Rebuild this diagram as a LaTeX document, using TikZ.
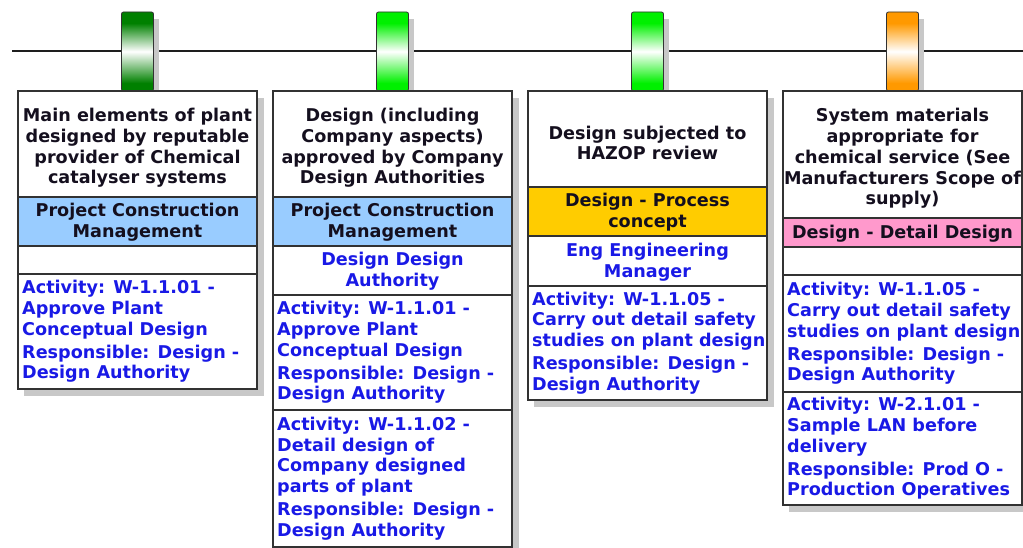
\documentclass[tikz,border=0pt]{standalone}
\usepackage{fontspec}
\setmainfont{DejaVu Sans}
\definecolor{bord}{RGB}{50,50,50}
\definecolor{hdrtxt}{RGB}{20,15,30}
\definecolor{bluetxt}{RGB}{25,25,230}
\definecolor{cellblue}{RGB}{153,204,255}
\definecolor{cellorange}{RGB}{255,204,0}
\definecolor{cellpink}{RGB}{255,153,204}
\definecolor{pegdark}{RGB}{0,128,0}
\definecolor{peglime}{RGB}{0,240,0}
\definecolor{pegorange}{RGB}{255,153,0}
\definecolor{shadowc}{RGB}{200,200,200}
\definecolor{linec}{RGB}{30,30,30}
\pgfdeclareverticalshading{pegA}{100bp}{color(0bp)=(pegdark); color(30bp)=(pegdark); color(50bp)=(white); color(68bp)=(pegdark); color(100bp)=(pegdark)}
\pgfdeclareverticalshading{pegB}{100bp}{color(0bp)=(peglime); color(30bp)=(peglime); color(50bp)=(white); color(68bp)=(peglime); color(100bp)=(peglime)}
\pgfdeclareverticalshading{pegC}{100bp}{color(0bp)=(pegorange); color(30bp)=(pegorange); color(50bp)=(white); color(68bp)=(pegorange); color(100bp)=(pegorange)}
\tikzset{
  cellr/.style={draw=bord, line width=1.2pt, minimum width=239pt, inner sep=0pt, outer sep=0pt},
  txt/.style={font=\bfseries\fontsize{17.6}{20.8}\selectfont, inner sep=0pt},
  hdrt/.style={txt, text=hdrtxt, align=center, yshift=-4pt},
  rolet/.style={txt, text=hdrtxt, align=center, yshift=-1pt},
  whot/.style={txt, text=bluetxt, align=center, yshift=-1pt},
  actt/.style={txt, text=bluetxt, align=left, anchor=west, xshift=4pt},
  pegbox/.style={draw=bord, line width=0.8pt, rounded corners=2pt, minimum width=32pt, minimum height=79pt, inner sep=0pt},
  shadowbox/.style={fill=shadowc},
  timeline/.style={draw=linec, line width=1.6pt},
}
\newcommand\cellbox[5]{%
  \node[cellr, fill=#5, minimum height={#4-#3}] (#1) at ({#2+119.5}, {(#3+#4)/2}) {};}
\begin{document}
\begin{tikzpicture}[x=1pt,y=-1pt]
\useasboundingbox (0,0) rectangle (1023,548);
\fill[white] (0,0) rectangle (1023,548);
% box shadows
\fill[shadowbox] (24,98) rectangle (264,396);
\fill[shadowbox] (279,98) rectangle (519,556);
\fill[shadowbox] (534,98) rectangle (774,407);
\fill[shadowbox] (789,98) rectangle (1029,512);
% timeline
\coordinate (L0) at (12,51);
\coordinate (L1) at (1023,51);
\draw[timeline] (L0) -- (L1);
% pegs
\node[pegbox, shading=pegA] (p1) at (137.5,51.5) {};
\node[pegbox, shading=pegB] (p2) at (392.5,51.5) {};
\node[pegbox, shading=pegB] (p3) at (647.5,51.5) {};
\node[pegbox, shading=pegC] (p4) at (902.5,51.5) {};
\foreach \p in {p1,p2,p3,p4}{
  \fill[shadowbox] ([xshift=0.5pt,yshift=-7pt]\p.north east) rectangle ([xshift=5pt]\p.south east);
}
% column 1
\cellbox{h1}{18}{91}{197}{white}
\cellbox{r1}{18}{197}{246}{cellblue}
\cellbox{e1}{18}{246}{274}{white}
\cellbox{a1}{18}{274}{389}{white}
\node[hdrt] (h1t) at (h1) {Main elements of plant\\designed by reputable\\provider of Chemical\\catalyser systems};
\node[rolet] (r1t) at (r1) {Project Construction\\Management};
\node[actt] (a1t) at (a1.west) {Activity: W-1.1.01 -\\Approve Plant\\Conceptual Design\\[2pt]Responsible: Design -\\Design Authority};
% column 2
\cellbox{h2}{273}{91}{197}{white}
\cellbox{r2}{273}{197}{246}{cellblue}
\cellbox{d2}{273}{246}{295}{white}
\cellbox{a2}{273}{295}{410}{white}
\cellbox{b2}{273}{410}{547}{white}
\node[hdrt] (h2t) at (h2) {Design (including\\Company aspects)\\approved by Company\\Design Authorities};
\node[rolet] (r2t) at (r2) {Project Construction\\Management};
\node[whot] (d2t) at (d2) {Design Design\\Authority};
\node[actt] (a2t) at (a2.west) {Activity: W-1.1.01 -\\Approve Plant\\Conceptual Design\\[2pt]Responsible: Design -\\Design Authority};
\node[actt] (b2t) at (b2.west) {Activity: W-1.1.02 -\\Detail design of\\Company designed\\parts of plant\\[2pt]Responsible: Design -\\Design Authority};
% column 3
\cellbox{h3}{528}{91}{187}{white}
\cellbox{r3}{528}{187}{236}{cellorange}
\cellbox{d3}{528}{236}{286}{white}
\cellbox{a3}{528}{286}{400}{white}
\node[hdrt] (h3t) at (h3) {Design subjected to\\HAZOP review};
\node[rolet] (r3t) at (r3) {Design - Process\\concept};
\node[whot] (d3t) at (d3) {Eng Engineering\\Manager};
\node[actt] (a3t) at (a3.west) {Activity: W-1.1.05 -\\Carry out detail safety\\studies on plant design\\[2pt]Responsible: Design -\\Design Authority};
% column 4
\cellbox{h4}{783}{91}{218}{white}
\cellbox{r4}{783}{218}{247}{cellpink}
\cellbox{e4}{783}{247}{275}{white}
\cellbox{a4}{783}{275}{392}{white}
\cellbox{b4}{783}{392}{505}{white}
\node[hdrt] (h4t) at (h4) {System materials\\appropriate for\\chemical service (See\\Manufacturers Scope of\\supply)};
\node[rolet] (r4t) at (r4) {Design - Detail Design};
\node[actt] (a4t) at (a4.west) {Activity: W-1.1.05 -\\Carry out detail safety\\studies on plant design\\[2pt]Responsible: Design -\\Design Authority};
\node[actt] (b4t) at (b4.west) {Activity: W-2.1.01 -\\Sample LAN before\\delivery\\[2pt]Responsible: Prod O -\\Production Operatives};
\end{tikzpicture}
\end{document}
